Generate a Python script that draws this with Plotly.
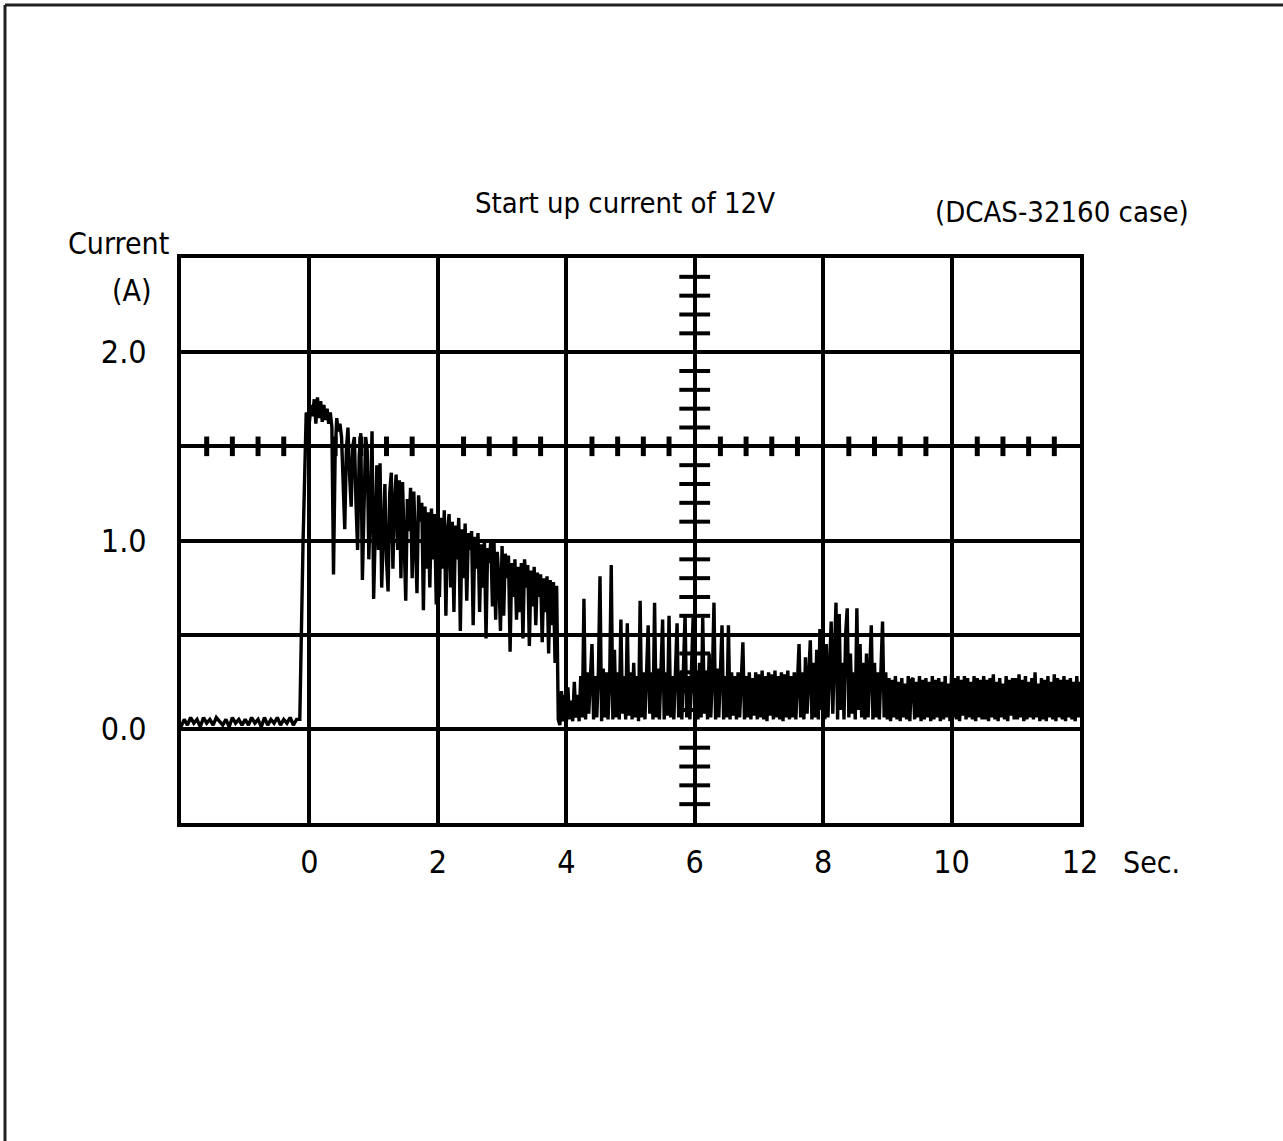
import plotly.graph_objects as go

# ---------------- data ----------------
# pre-trigger segment: -2.0 s .. -0.05 s, sampled every 0.05 s
pre_start, pre_dt = -2.0, 0.05
cur_pre = [0.01, 0.05, 0.02, 0.06, 0.03, 0.05, 0.01, 0.06, 0.03, 0.05,
           0.02, 0.06, 0.04, 0.02, 0.05, 0.01, 0.06, 0.03, 0.05, 0.02,
           0.05, 0.02, 0.06, 0.03, 0.05, 0.01, 0.06, 0.02, 0.05, 0.03,
           0.06, 0.02, 0.05, 0.03, 0.06, 0.02, 0.05, 0.05, 0.98, 1.68]

# post-trigger segment: 0.0 s .. 12.0 s, sampled every 0.025 s (one list per second)
post_start, post_dt = 0.0, 0.025
cur_s0 = [1.63, 1.72, 1.66, 1.75, 1.62, 1.76, 1.65, 1.74, 1.63, 1.72,
          1.64, 1.70, 1.62, 1.68, 1.60, 0.82, 1.45, 1.65, 1.58, 1.62,
          1.55, 1.30, 1.06, 1.48, 1.60, 1.35, 1.18, 1.50, 1.55, 1.20,
          0.95, 1.45, 1.57, 0.79, 1.30, 1.55, 1.48, 0.90, 1.20, 1.58]
cur_s1 = [0.69, 1.05, 1.40, 0.95, 1.41, 0.75, 1.10, 1.30, 0.90, 0.73,
          1.25, 1.36, 0.85, 1.20, 1.35, 0.95, 1.32, 0.80, 1.31, 1.00,
          0.68, 1.22, 1.05, 1.28, 0.80, 1.26, 0.95, 0.72, 1.24, 1.10,
          1.20, 0.63, 1.18, 0.85, 1.15, 0.75, 1.17, 0.90, 1.14, 0.66]
cur_s2 = [1.20, 0.70, 1.12, 0.85, 1.16, 0.60, 1.05, 1.14, 0.75, 1.10,
          0.62, 1.08, 0.90, 1.12, 0.52, 1.06, 0.80, 1.09, 0.68, 1.04,
          0.95, 1.05, 0.55, 1.02, 0.85, 1.04, 0.62, 0.98, 0.75, 1.00,
          0.48, 0.96, 0.88, 1.00, 0.65, 0.99, 0.58, 0.94, 0.80, 0.52]
cur_s3 = [0.97, 0.60, 0.93, 0.80, 0.92, 0.41, 0.88, 0.70, 0.90, 0.58,
          0.86, 0.62, 0.88, 0.48, 0.90, 0.75, 0.87, 0.44, 0.84, 0.65,
          0.86, 0.55, 0.83, 0.70, 0.82, 0.46, 0.80, 0.62, 0.81, 0.40,
          0.79, 0.55, 0.78, 0.35, 0.76, 0.05, 0.02, 0.20, 0.04, 0.18]
cur_s4 = [0.03, 0.22, 0.05, 0.15, 0.04, 0.25, 0.06, 0.18, 0.04, 0.28,
          0.06, 0.69, 0.05, 0.30, 0.08, 0.25, 0.45, 0.05, 0.28, 0.06,
          0.30, 0.81, 0.04, 0.32, 0.06, 0.30, 0.05, 0.25, 0.87, 0.05,
          0.42, 0.06, 0.30, 0.05, 0.58, 0.08, 0.28, 0.05, 0.56, 0.07]
cur_s5 = [0.30, 0.05, 0.35, 0.06, 0.28, 0.04, 0.68, 0.06, 0.30, 0.05,
          0.25, 0.55, 0.08, 0.30, 0.05, 0.67, 0.06, 0.32, 0.05, 0.28,
          0.58, 0.05, 0.30, 0.07, 0.60, 0.06, 0.28, 0.05, 0.33, 0.56,
          0.06, 0.30, 0.05, 0.35, 0.61, 0.06, 0.28, 0.05, 0.30, 0.59]
cur_s6 = [0.07, 0.30, 0.05, 0.35, 0.06, 0.59, 0.08, 0.30, 0.05, 0.40,
          0.06, 0.28, 0.67, 0.05, 0.32, 0.06, 0.30, 0.55, 0.05, 0.28,
          0.06, 0.55, 0.05, 0.30, 0.07, 0.28, 0.05, 0.30, 0.06, 0.27,
          0.46, 0.05, 0.28, 0.06, 0.30, 0.05, 0.27, 0.07, 0.30, 0.05]
cur_s7 = [0.29, 0.06, 0.31, 0.05, 0.28, 0.04, 0.30, 0.07, 0.29, 0.05,
          0.31, 0.06, 0.28, 0.05, 0.30, 0.04, 0.29, 0.06, 0.31, 0.05,
          0.28, 0.06, 0.30, 0.05, 0.26, 0.45, 0.06, 0.30, 0.05, 0.38,
          0.08, 0.30, 0.47, 0.05, 0.35, 0.06, 0.42, 0.05, 0.53, 0.10]
cur_s8 = [0.35, 0.05, 0.45, 0.06, 0.30, 0.57, 0.08, 0.40, 0.67, 0.05,
          0.61, 0.10, 0.35, 0.05, 0.50, 0.64, 0.06, 0.40, 0.08, 0.30,
          0.05, 0.64, 0.10, 0.45, 0.06, 0.35, 0.05, 0.40, 0.06, 0.30,
          0.55, 0.05, 0.35, 0.06, 0.30, 0.05, 0.40, 0.57, 0.06, 0.30]
cur_s9 = [0.05, 0.27, 0.04, 0.26, 0.06, 0.28, 0.05, 0.25, 0.04, 0.27,
          0.06, 0.24, 0.05, 0.28, 0.04, 0.26, 0.27, 0.05, 0.25, 0.06,
          0.28, 0.04, 0.26, 0.05, 0.27, 0.06, 0.25, 0.04, 0.28, 0.05,
          0.26, 0.06, 0.27, 0.04, 0.25, 0.05, 0.28, 0.06, 0.24, 0.04]
cur_s10 = [0.29, 0.06, 0.27, 0.05, 0.28, 0.04, 0.26, 0.07, 0.28, 0.05,
           0.27, 0.06, 0.25, 0.05, 0.28, 0.04, 0.27, 0.06, 0.26, 0.05,
           0.28, 0.05, 0.26, 0.04, 0.27, 0.06, 0.29, 0.05, 0.25, 0.04,
           0.27, 0.06, 0.24, 0.05, 0.28, 0.04, 0.26, 0.07, 0.27, 0.05]
cur_s11 = [0.27, 0.05, 0.29, 0.06, 0.26, 0.04, 0.28, 0.05, 0.25, 0.06,
           0.27, 0.05, 0.30, 0.06, 0.24, 0.04, 0.27, 0.05, 0.26, 0.04,
           0.28, 0.06, 0.25, 0.05, 0.29, 0.04, 0.27, 0.06, 0.26, 0.05,
           0.28, 0.04, 0.26, 0.06, 0.27, 0.05, 0.25, 0.04, 0.28, 0.06, 0.25]

x_tick_vals = [-2, 0, 2, 4, 6, 8, 10, 12]
x_tick_text = ["", "0", "2", "4", "6", "8", "10", "12"]
y_tick_vals = [-0.5, 0.0, 0.5, 1.0, 1.5, 2.0, 2.5]
y_tick_text = ["", "0.0", "", "1.0", "", "2.0", ""]

title_text = "Start up current of 12V"
case_text = "(DCAS-32160 case)"
y_title_1 = "Current"
y_title_2 = "(A)"
x_unit = "Sec."

# ---------------- build ----------------
cur_post = (cur_s0 + cur_s1 + cur_s2 + cur_s3 + cur_s4 + cur_s5 + cur_s6 +
            cur_s7 + cur_s8 + cur_s9 + cur_s10 + cur_s11)
time = ([round(pre_start + pre_dt * i, 4) for i in range(len(cur_pre))] +
        [round(post_start + post_dt * i, 4) for i in range(len(cur_post))])
current = cur_pre + cur_post

FONT = "DejaVu Sans Condensed, Liberation Sans Narrow, Arial Narrow, DejaVu Sans, sans-serif"

fig = go.Figure()

# centre-axis minor ticks (oscilloscope graticule)
hx = [round(-2 + 0.4 * k, 2) for k in range(1, 35) if k % 5 != 0]
vy = [round(-0.5 + 0.1 * k, 2) for k in range(1, 30) if k % 5 != 0]
fig.add_trace(go.Scatter(x=hx, y=[1.5] * len(hx), mode="markers", hoverinfo="skip",
                         marker=dict(symbol="line-ns", size=14, line=dict(color="black", width=5))))
fig.add_trace(go.Scatter(x=[6] * len(vy), y=vy, mode="markers", hoverinfo="skip",
                         marker=dict(symbol="line-ew", size=22, line=dict(color="black", width=4))))

fig.add_trace(go.Scatter(x=time, y=current, mode="lines",
                         line=dict(color="black", width=3.4)))

W, H = 1283, 1141
L, R, T, B = 181, 1080, 258, 823
pw, ph = R - L, B - T

def px_x(px):
    return (px - L) / pw

def px_y(py):
    return (B - py) / ph

fig.update_layout(
    width=W, height=H,
    margin=dict(l=L, r=W - R, t=T, b=H - B, pad=0),
    paper_bgcolor="white", plot_bgcolor="white",
    showlegend=False,
    font=dict(family=FONT, color="black", size=30),
    title=dict(text=title_text, x=px_x(625), xref="paper", xanchor="center",
               y=1 - 203 / H, yref="container", yanchor="middle",
               font=dict(family=FONT, size=29, color="black")),
    xaxis=dict(range=[-2, 12], tickvals=x_tick_vals, ticktext=x_tick_text,
               showgrid=True, gridcolor="black", gridwidth=3.5,
               showline=True, linecolor="black", linewidth=4, mirror=True,
               zeroline=False, ticks="", ticklabelstandoff=8,
               tickfont=dict(family=FONT, size=32, color="black")),
    yaxis=dict(range=[-0.5, 2.5], tickvals=y_tick_vals, ticktext=y_tick_text,
               showgrid=True, gridcolor="black", gridwidth=3.5,
               showline=True, linecolor="black", linewidth=4, mirror=True,
               zeroline=False, ticks="", ticklabelstandoff=24,
               tickfont=dict(family=FONT, size=32, color="black")),
    annotations=[
        dict(text=y_title_1, x=px_x(118), y=px_y(244), xref="paper", yref="paper",
             showarrow=False, xanchor="center", yanchor="middle",
             font=dict(family=FONT, size=30, color="black")),
        dict(text=y_title_2, x=px_x(132), y=px_y(290), xref="paper", yref="paper",
             showarrow=False, xanchor="center", yanchor="middle",
             font=dict(family=FONT, size=30, color="black")),
        dict(text=x_unit, x=px_x(1151), y=px_y(862), xref="paper", yref="paper",
             showarrow=False, xanchor="center", yanchor="middle",
             font=dict(family=FONT, size=30, color="black")),
        dict(text=case_text, x=px_x(1062), y=px_y(212), xref="paper", yref="paper",
             showarrow=False, xanchor="center", yanchor="middle",
             font=dict(family=FONT, size=29, color="black")),
    ],
    shapes=[
        dict(type="line", xref="paper", yref="paper", x0=px_x(5), x1=px_x(5),
             y0=px_y(1200), y1=px_y(5), line=dict(color="#222", width=3)),
        dict(type="line", xref="paper", yref="paper", x0=px_x(5), x1=px_x(1300),
             y0=px_y(5), y1=px_y(5), line=dict(color="#222", width=3)),
    ],
)

fig.write_html("out.html", config={"displayModeBar": False},
               post_script="document.body.style.margin='0px';")
